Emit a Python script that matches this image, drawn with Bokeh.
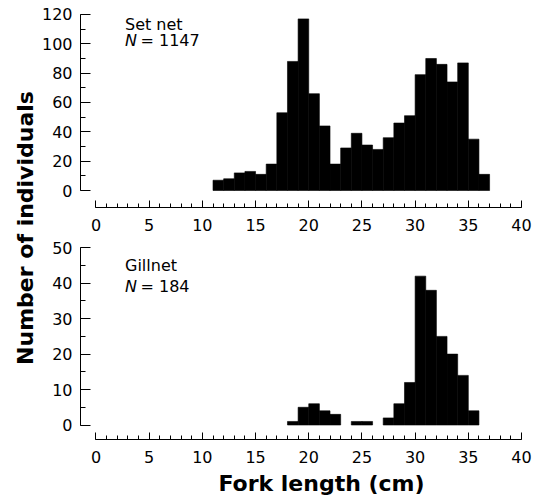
from math import pi
from bokeh.plotting import figure
from bokeh.layouts import row, column
from bokeh.models import Range1d, SingleIntervalTicker, Label
from bokeh.embed import file_html
from bokeh.resources import INLINE

# ---- data ----
set_net_bins = list(range(11, 37))  # left edges of 1-cm bins
set_net_counts = [7, 8, 12, 13, 11, 18, 53, 88, 117, 66, 44, 18, 29,
                  39, 31, 28, 36, 46, 51, 79, 90, 86, 74, 87, 35, 11]
gillnet_bins = [18, 19, 20, 21, 22, 24, 25, 27, 28, 29, 30, 31, 32, 33, 34, 35]
gillnet_counts = [1, 5, 6, 4, 3, 1, 1, 2, 6, 12, 42, 38, 25, 20, 14, 4]
x_ticks_interval = 5
set_net_y_interval = 20
gillnet_y_interval = 10

FONT = "DejaVu Sans"


def make_panel(height, y_start, y_end, y_max, y_interval, border_top, border_bottom,
               bins, counts):
    p = figure(width=495, height=height, output_backend="svg", toolbar_location=None,
               x_range=Range1d(-1.457, 40.47), y_range=Range1d(y_start, y_end),
               min_border_left=42, min_border_right=7,
               min_border_top=border_top, min_border_bottom=border_bottom)
    p.outline_line_color = None
    p.grid.visible = False
    p.background_fill_color = "white"
    p.border_fill_color = "white"

    p.quad(left=bins, right=[b + 1 for b in bins], bottom=0, top=counts,
           fill_color="black", line_color="black", line_width=0.6)

    xa = p.xaxis[0]
    xa.bounds = (0, 40)
    xa.ticker = SingleIntervalTicker(interval=x_ticks_interval, num_minor_ticks=5)
    xa.major_tick_in = 7
    xa.major_tick_out = 0
    xa.minor_tick_in = 4
    xa.minor_tick_out = 0
    xa.axis_line_color = "black"
    xa.major_tick_line_color = "black"
    xa.minor_tick_line_color = "black"
    xa.major_label_text_font = FONT
    xa.major_label_text_font_size = "16px"
    xa.major_label_text_color = "black"
    xa.major_label_standoff = 11

    ya = p.yaxis[0]
    ya.bounds = (0, y_max)
    ya.ticker = SingleIntervalTicker(interval=y_interval, num_minor_ticks=2)
    ya.major_tick_in = 10
    ya.major_tick_out = 0
    ya.minor_tick_in = 5
    ya.minor_tick_out = 0
    ya.axis_line_color = "black"
    ya.major_tick_line_color = "black"
    ya.minor_tick_line_color = "black"
    ya.major_label_text_font = FONT
    ya.major_label_text_font_size = "16px"
    ya.major_label_text_color = "black"
    ya.major_label_standoff = 8
    return p


# top panel: canvas y 0..240, frame 8..207 ; bottom panel: canvas 240..469, frame 244..439
top = make_panel(240, -11.59, 124.09, 120, set_net_y_interval, 8, 33,
                 set_net_bins, set_net_counts)
bottom = make_panel(229, -4.09, 50.93, 50, gillnet_y_interval, 4, 30,
                    gillnet_bins, gillnet_counts)


def add_text(p, x, y, text, style="normal", size="16px", align="left", angle=0):
    p.add_layout(Label(x=x, y=y, x_units="screen", y_units="screen", text=text,
                       angle=angle,
                       text_font=FONT, text_font_size=size, text_font_style=style,
                       text_color="black", text_align=align, text_baseline="alphabetic"))


add_text(top, 44.5, 183.3, "Set net")
add_text(top, 44.5, 166.6, "N", style="italic")
add_text(top, 60, 166.6, "= 1147")
add_text(bottom, 44.5, 173.6, "Gillnet")
add_text(bottom, 44.5, 153.3, "N", style="italic")
add_text(bottom, 60, 153.3, "= 184")


def text_strip(width, height):
    f = figure(width=width, height=height, output_backend="svg", toolbar_location=None,
               x_range=Range1d(0, 1), y_range=Range1d(0, 1),
               x_axis_location=None, y_axis_location=None,
               min_border_left=0, min_border_right=0, min_border_top=0, min_border_bottom=0)
    f.outline_line_color = None
    f.grid.visible = False
    return f


ylab = text_strip(38, 496)
add_text(ylab, 24.7, 268.5, "Number of individuals", style="bold", size="22px",
         align="center", angle=pi / 2)

# frame of this strip is aligned with the panels above (left edge at page x = 80)
xlab = text_strip(495, 27)
add_text(xlab, 241, 13.3, "Fork length (cm)", style="bold", size="22px", align="center")

layout = row(ylab, column(top, bottom, xlab, spacing=0), spacing=0)

with open("out.html", "w") as f:
    f.write(file_html(layout, INLINE))
